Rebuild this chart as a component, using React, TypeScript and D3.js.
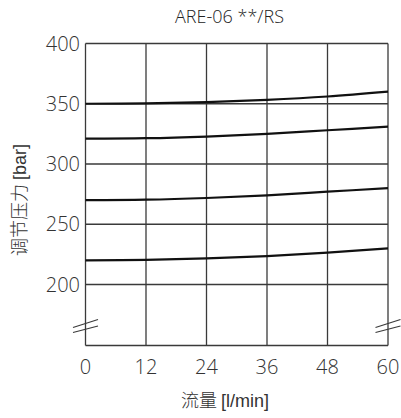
import React from "react";
import * as d3 from "d3";

const flowTicks = [0, 12, 24, 36, 48, 60];
const pressureTicks = [200, 250, 300, 350, 400];
const flow = [0, 12, 24, 36, 48, 60];
const curve350 = [350, 350.3, 351.3, 353.2, 356, 360];
const curve320 = [321, 321.4, 322.8, 325, 328, 331];
const curve270 = [270, 270.4, 271.8, 274, 277, 280];
const curve220 = [220, 220.4, 221.6, 223.6, 226.5, 230];
const curves = [curve350, curve320, curve270, curve220];

export default function App() {
  const W = 401, H = 418;
  const x = d3.scaleLinear().domain([0, 60]).range([85.5, 388]);
  const y = d3.scaleLinear().domain([200, 400]).range([284.5, 43.5]);
  const yBottom = 345.5;
  const line = d3.line<number>().x((_, i) => x(flow[i])).y((d) => y(d)).curve(d3.curveCatmullRom);
  const grid = "#3a3a3a";
  const numFont = "'Open Sans', sans-serif";
  return (
    <svg width={W} height={H} style={{ position: "absolute", left: 0, top: 0, background: "#fff" }}>
      <text x={229.5} y={23} textAnchor="middle" fontFamily={numFont} fontWeight={300} fontSize={18} fill="#222">ARE-06 **/RS</text>
      {pressureTicks.map((p) => (
        <line key={"h" + p} x1={x(0)} x2={x(60)} y1={y(p)} y2={y(p)} stroke={grid} strokeWidth={1.3} />
      ))}
      <line x1={x(0)} x2={x(60)} y1={yBottom} y2={yBottom} stroke={grid} strokeWidth={1.3} />
      {flowTicks.map((f) => (
        <line key={"v" + f} x1={x(f)} x2={x(f)} y1={y(400)} y2={yBottom} stroke={grid} strokeWidth={1.3} />
      ))}
      {curves.map((c, i) => (
        <path key={"c" + i} d={line(c) || ""} fill="none" stroke="#111" strokeWidth={2.2} />
      ))}
      {[x(0), x(60)].map((bx, i) => (
        <g key={"b" + i} stroke={grid} strokeWidth={1.2}>
          <line x1={bx - 12.5} y1={327.5} x2={bx + 12.5} y2={319.5} />
          <line x1={bx - 12.5} y1={332.5} x2={bx + 12.5} y2={326} />
        </g>
      ))}
      {pressureTicks.map((p) => (
        <text key={"yl" + p} x={80} y={y(p) + 7} textAnchor="end" fontFamily={numFont} fontWeight={300} fontSize={20} fill="#333">{p}</text>
      ))}
      {flowTicks.map((f) => (
        <text key={"xl" + f} x={x(f)} y={374} textAnchor="middle" fontFamily={numFont} fontWeight={300} fontSize={20} fill="#333">{f}</text>
      ))}
      <text x={225} y={407} textAnchor="middle" fontSize={18} fill="#333">
        <tspan fontFamily="'Noto Sans CJK SC'" fontWeight={300}>流量 </tspan>
        <tspan fontFamily="'Liberation Sans', Arial, sans-serif">[l/min]</tspan>
      </text>
      <text transform="translate(26,200) rotate(-90)" textAnchor="middle" fontSize={18} fill="#333">
        <tspan fontFamily="'Noto Sans CJK SC'" fontWeight={300}>调节压力 </tspan>
        <tspan fontFamily="'Liberation Sans', Arial, sans-serif">[bar]</tspan>
      </text>
    </svg>
  );
}
